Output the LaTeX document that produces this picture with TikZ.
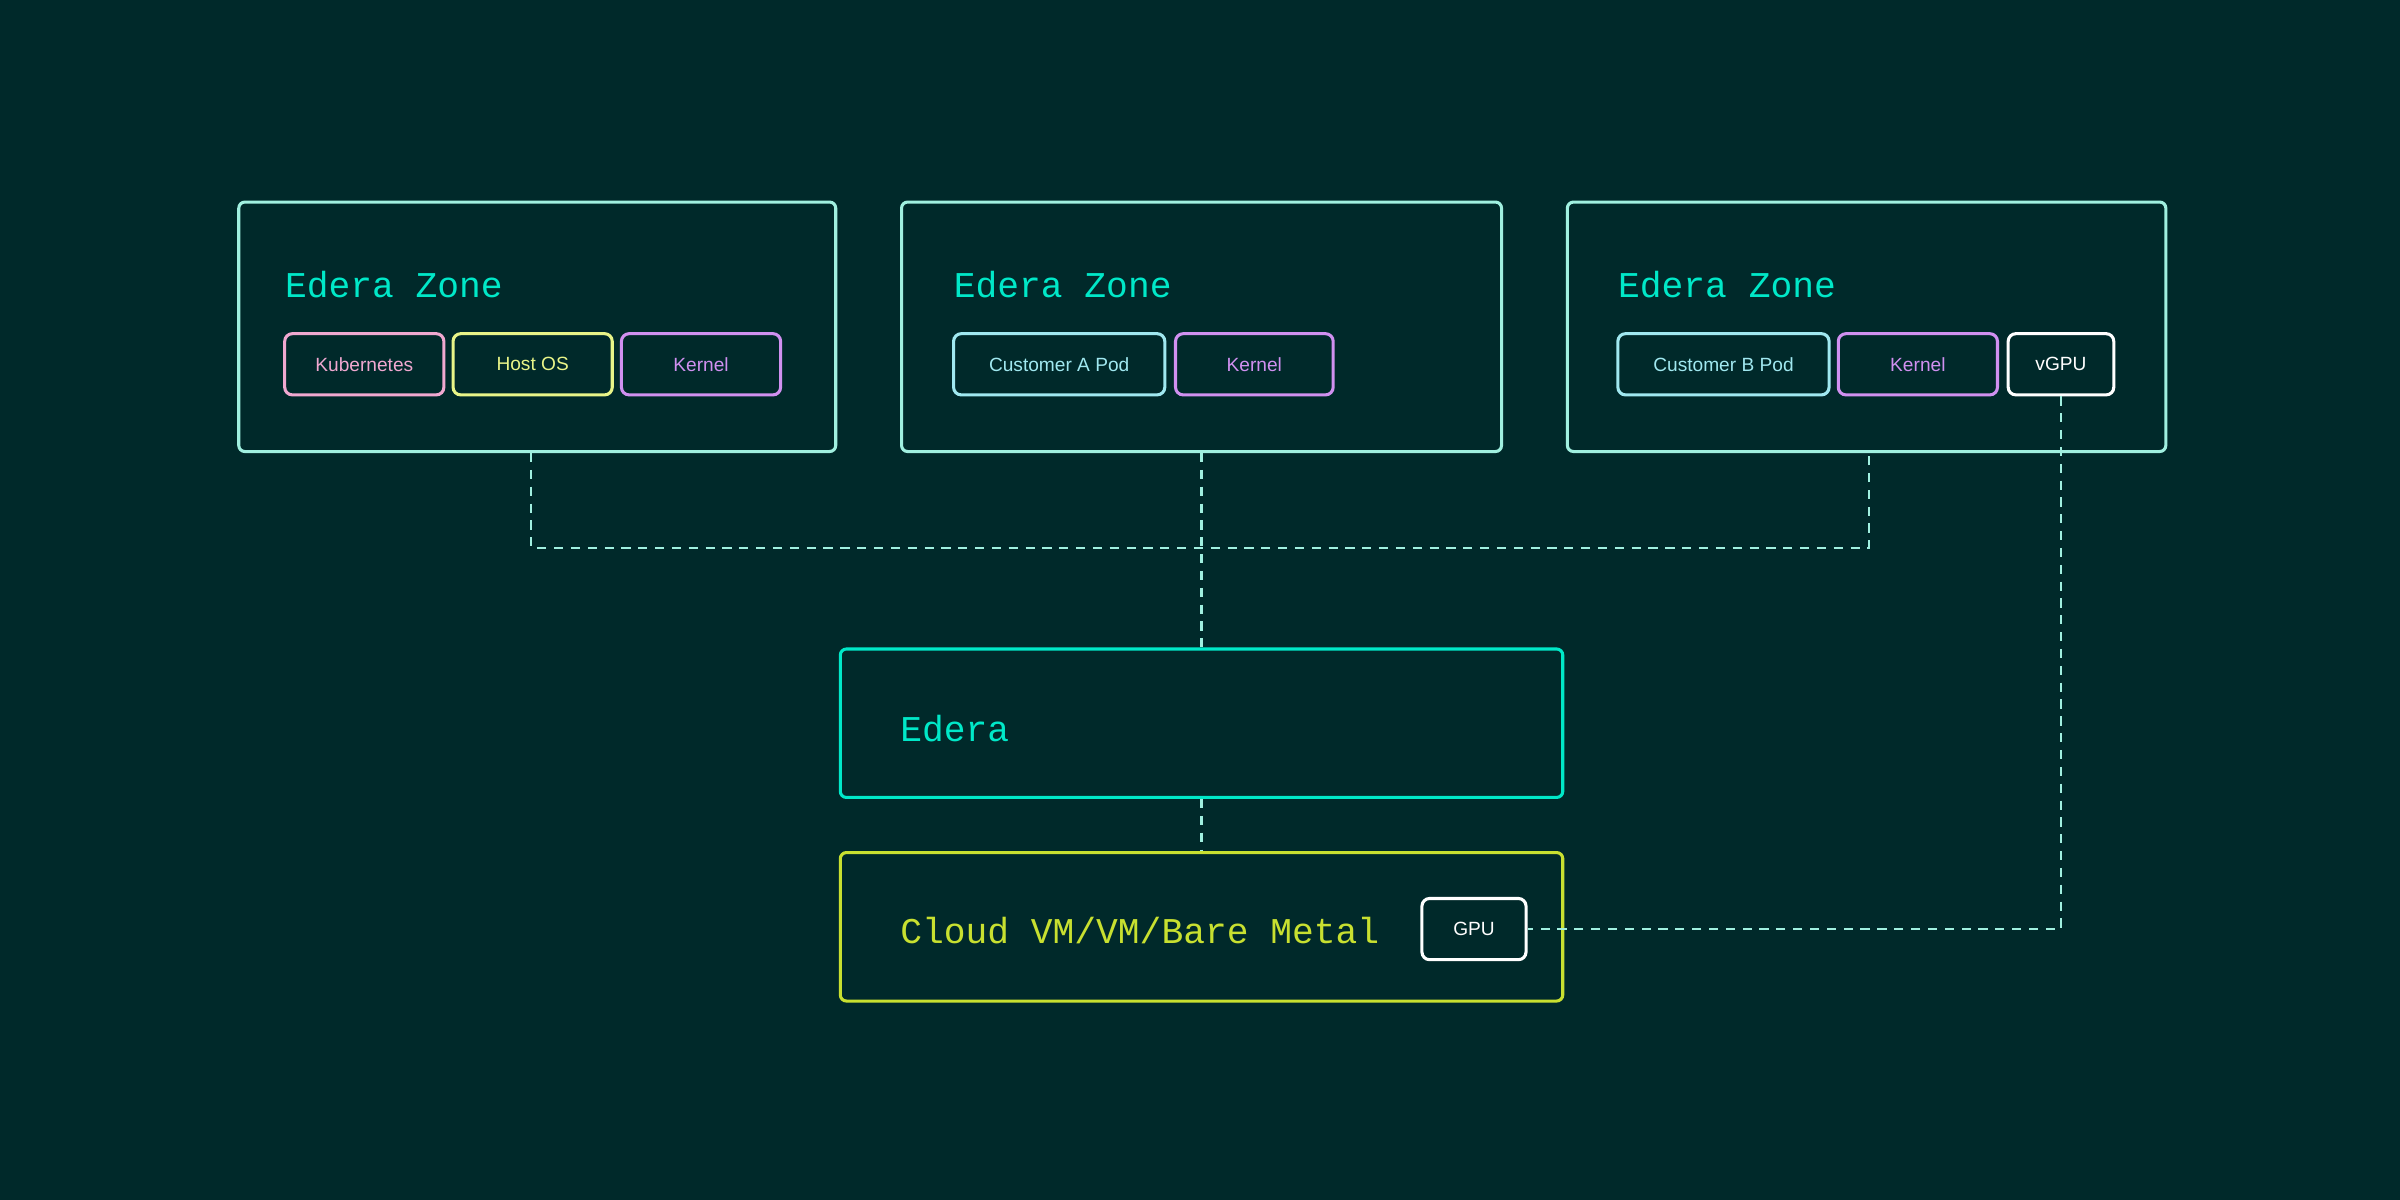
\documentclass[tikz,border=0pt]{standalone}
\usepackage{fontspec}
\setmainfont{Liberation Sans}
\newfontfamily\zonefont{Liberation Mono}
\usetikzlibrary{positioning}
\definecolor{bgdark}{HTML}{00292A}
\definecolor{zoneline}{HTML}{A0F0E0}
\definecolor{zonetitle}{HTML}{00E8C8}
\definecolor{pinkish}{HTML}{F0A8D0}
\definecolor{lime}{HTML}{E8F488}
\definecolor{lilac}{HTML}{D090F0}
\definecolor{podcyan}{HTML}{A0E8F0}
\definecolor{metal}{HTML}{C8E030}
\tikzset{
  zone/.style={draw=zoneline, line width=2pt, rounded corners=4pt, anchor=north west, inner sep=0pt},
  title/.style={anchor=west, inner sep=0pt, font=\zonefont\fontsize{23.7}{26}\selectfont},
  chip/.style={draw=#1, text=#1, line width=2pt, rounded corners=5pt, minimum height=40pt, inner sep=0pt, font=\fontsize{12.5}{14}\selectfont},
  link/.style={draw=zoneline, line width=1.6pt, dash pattern=on 6pt off 5pt}
}
\begin{document}
\begin{tikzpicture}[x=1pt,y=-1pt]
  \fill[bgdark] (0,0) rectangle (1568,784);
  \useasboundingbox (0,0) rectangle (1568,784);

  % Zones
  \node[zone, minimum width=390pt, minimum height=163pt] (zoneA) at (155,131) {};
  \node[zone, minimum width=392pt, minimum height=163pt] (zoneB) at (588,131) {};
  \node[zone, minimum width=391pt, minimum height=163pt] (zoneC) at (1023,131) {};
  \node[title, text=zonetitle] at (186,186) {Edera Zone};
  \node[title, text=zonetitle] at (623,186) {Edera Zone};
  \node[title, text=zonetitle] at (1057,186) {Edera Zone};

  % Chips
  \node[chip=pinkish, minimum width=104pt] (kube) at (238,238) {Kubernetes};
  \node[chip=lime, minimum width=104pt] (hostos) at (348,238) {Host OS};
  \node[chip=lilac, minimum width=104pt] (kernA) at (458,238) {Kernel};
  \node[chip=podcyan, minimum width=138pt] (podA) at (692,238) {Customer A Pod};
  \node[chip=lilac, minimum width=103pt] (kernB) at (819.5,238) {Kernel};
  \node[chip=podcyan, minimum width=138pt] (podB) at (1126,238) {Customer B Pod};
  \node[chip=lilac, minimum width=104pt] (kernC) at (1253,238) {Kernel};
  \node[chip=white, minimum width=69pt] (vgpu) at (1346.5,238) {vGPU};

  % Edera and host
  \node[zone, draw=zonetitle, minimum width=472pt, minimum height=97pt] (edera) at (548,423) {};
  \node[title, text=zonetitle] at (588,476) {Edera};
  \node[zone, draw=metal, minimum width=472pt, minimum height=97pt] (cloud) at (548,556) {};
  \node[title, text=metal] at (588,608) {Cloud VM/VM/Bare Metal};
  \node[chip=white, minimum width=68pt] (gpu) at (963,607) {GPU};

  % Links
  \coordinate (busL) at (347,358);
  \coordinate (busR) at (1221,358);
  \coordinate (bend) at (vgpu.south |- gpu.east);
  \draw[link] (zoneA.south -| busL) -- (busL) -- (busR) -- (zoneC.south -| busR);
  \draw[link] (zoneB.south) -- (edera.north);
  \draw[link] (edera.south) -- (cloud.north);
  \draw[link] (vgpu.south) -- (bend) -- (gpu.east);
\end{tikzpicture}
\end{document}
